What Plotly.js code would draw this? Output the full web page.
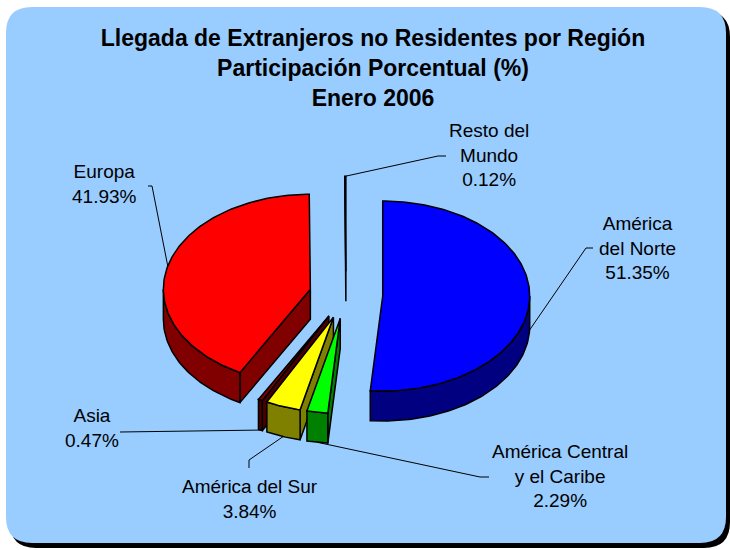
<!DOCTYPE html>
<html><head><meta charset="utf-8">
<script src="https://cdn.plot.ly/plotly-3.0.1.min.js"></script>
<style>html,body{margin:0;padding:0;background:#fff}#chart{width:730px;height:550px}</style>
</head><body><div id="chart"></div>
<script>
// ---------- data ----------
const regions = ['América del Norte','América Central y el Caribe','América del Sur','Asia','Europa','Resto del Mundo'];
const shares = [51.35, 2.29, 3.84, 0.47, 41.93, 0.12];
const labelLines = [['América','del Norte'], ['América Central','y el Caribe'], ['América del Sur'], ['Asia'], ['Europa'], ['Resto del','Mundo']];
const titleLines = ['Llegada de Extranjeros no Residentes por Región','Participación Porcentual (%)','Enero 2006'];

// ---------- styles ----------
const topColors  = ['#0000FF','#00FF00','#FFFF00','#800000','#FF0000','#FFFFFF'];
const sideColors = ['#000080','#008000','#808000','#4A0000','#800000','#808080'];

// ---------- layout geometry (pixels) ----------
const W = 730, H = 550, CX = 346, CY = 295, RX = 147, RY = 95, DEPTH = 30, PULL = 0.25;
const toX = px => (px - CX) / RX, toY = py => (CY - py) / RY;
const D = DEPTH / RY;
const labelPos = [[637,248],[560,476],[250,499],[92,428],[104,184],[489,155]];
const leaderElbows = [[[593,248],[586,248]], [[489,477],[480,477]], [[249,468],[249,460]], [[120,432]], [[148,186],[152,186]], [[446,156],[438,156]]];

// ---------- slice geometry from data ----------
const RAD = Math.PI/180;
const total = shares.reduce((a,b)=>a+b,0);
let acc = 0;
const slices = shares.map((v,i)=>{
  const a1 = acc/total*360; acc += v; const a2 = acc/total*360; const mid = (a1+a2)/2;
  return {i, a1, a2, mid, ox: PULL*Math.sin(mid*RAD), oy: PULL*Math.cos(mid*RAD)};
});
const rim = (s, deg, dy=0) => [s.ox + Math.sin(deg*RAD), s.oy + Math.cos(deg*RAD) - dy];
function arc(s, d1, d2, dy){
  const n = Math.max(2, Math.ceil(Math.abs(d2-d1)) + 1), pts = [];
  for (let k=0;k<n;k++) pts.push(rim(s, d1 + (d2-d1)*k/(n-1), dy));
  return pts;
}
function poly(pts, fill, name){
  return {type:'scatter', mode:'lines', name:name,
    x: pts.map(p=>p[0]).concat([pts[0][0]]), y: pts.map(p=>p[1]).concat([pts[0][1]]),
    fill:'toself', fillcolor:fill, line:{color:'#000', width:1.5}, hoverinfo:'skip', showlegend:false};
}

const traces = [];
const order = slices.slice().sort((a,b)=>Math.cos(b.mid*RAD) - Math.cos(a.mid*RAD));
order.forEach(s=>{
  const apex = [s.ox, s.oy], apexD = [s.ox, s.oy - D];
  const side = sideColors[s.i], name = regions[s.i];
  if (Math.sin(s.a1*RAD) < -1e-9) traces.push(poly([apex, rim(s,s.a1), rim(s,s.a1,D), apexD], side, name));
  if (Math.sin(s.a2*RAD) > 1e-9) traces.push(poly([apex, rim(s,s.a2), rim(s,s.a2,D), apexD], side, name));
  const lo = Math.max(s.a1, 90), hi = Math.min(s.a2, 270);
  if (hi > lo) traces.push(poly(arc(s,lo,hi,0).concat(arc(s,hi,lo,D)), side, name));
  traces.push(poly([apex].concat(arc(s,s.a1,s.a2,0)), topColors[s.i], name));
});

// ---------- labels & leader lines ----------
const annotations = slices.map(s=>({
  text: labelLines[s.i].concat([shares[s.i].toFixed(2)+'%']).join('<br>'),
  xref:'paper', yref:'paper', x: labelPos[s.i][0]/W, y: 1 - labelPos[s.i][1]/H,
  xanchor:'center', yanchor:'middle', align:'center', showarrow:false,
  font:{family:'Liberation Sans, Arial, sans-serif', size:19, color:'#000'}
}));
const shapes = [];
function rrPath(x0,y0,x1,y1,r){
  const P = (x,y)=> (x/W).toFixed(5)+','+(1-y/H).toFixed(5);
  return 'M'+P(x0+r,y0)+' L'+P(x1-r,y0)+' Q'+P(x1,y0)+' '+P(x1,y0+r)+' L'+P(x1,y1-r)+' Q'+P(x1,y1)+' '+P(x1-r,y1)+
    ' L'+P(x0+r,y1)+' Q'+P(x0,y1)+' '+P(x0,y1-r)+' L'+P(x0,y0+r)+' Q'+P(x0,y0)+' '+P(x0+r,y0)+' Z';
}
shapes.push({type:'path', xref:'paper', yref:'paper', layer:'below', path: rrPath(10,11,730,548,26), fillcolor:'#000', line:{width:0}});
shapes.push({type:'path', xref:'paper', yref:'paper', layer:'below', path: rrPath(6,7,726,543,26), fillcolor:'#99CCFF', line:{width:0}});
slices.forEach(s=>{
  const anchor = rim(s, s.mid, Math.cos(s.mid*RAD) < 0 ? D : 0);
  const pts = leaderElbows[s.i].map(p=>[toX(p[0]), toY(p[1])]).concat([anchor]);
  shapes.push({type:'path', xref:'x', yref:'y', layer:'above',
    path: pts.map((p,k)=>(k?'L':'M')+p[0]+','+p[1]).join(' '), line:{color:'#000', width:1}});
});

const layout = {
  width: W, height: H, margin:{l:0,r:0,t:0,b:0},
  paper_bgcolor:'#FFFFFF', plot_bgcolor:'rgba(0,0,0,0)',
  title:{text: titleLines.join('<br>'), x: 373/W, xanchor:'center', y: 1 - 46/H, yanchor:'middle',
    font:{family:'Liberation Sans, Arial, sans-serif', size:23, color:'#000', weight:'bold'}},
  xaxis:{range:[toX(0), toX(W)], visible:false, fixedrange:true},
  yaxis:{range:[toY(H), toY(0)], visible:false, fixedrange:true},
  showlegend:false, annotations, shapes, hovermode:false
};
Plotly.newPlot('chart', traces, layout, {displayModeBar:false, staticPlot:true});
</script></body></html>
